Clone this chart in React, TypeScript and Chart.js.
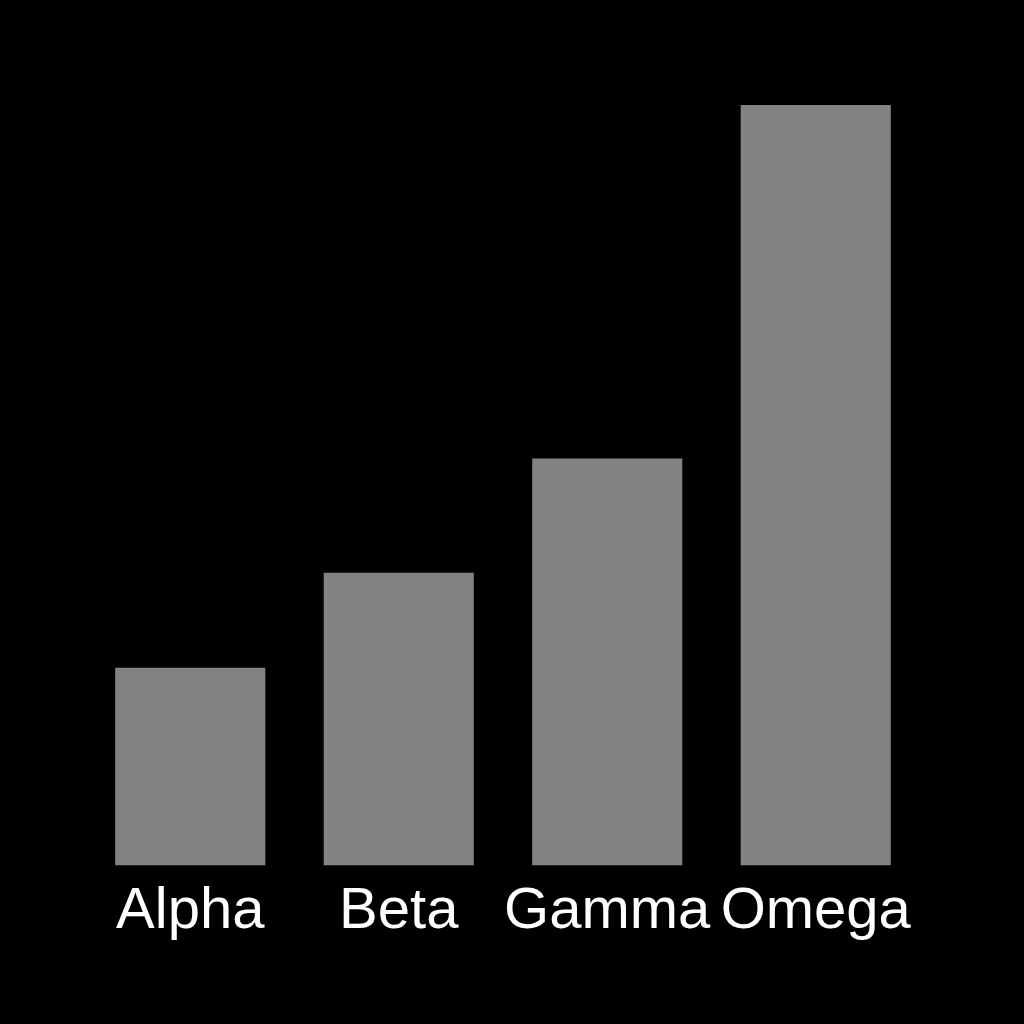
import React, { useEffect, useRef } from "react";
import { Chart, registerables } from "chart.js";

Chart.register(...registerables);

const categories = ["Alpha", "Beta", "Gamma", "Omega"];
const values = [26, 38.5, 53.5, 100];
const barColor = "#838383";

export default function App() {
  const ref = useRef<HTMLCanvasElement | null>(null);
  useEffect(() => {
    document.body.style.margin = "0";
    document.body.style.background = "#000";
    const canvas = ref.current;
    if (!canvas) return;
    const chart = new Chart(canvas, {
      type: "bar",
      data: {
        labels: categories,
        datasets: [
          {
            data: values,
            backgroundColor: barColor,
            borderWidth: 0,
            barPercentage: 0.72,
            categoryPercentage: 1,
          },
        ],
      },
      options: {
        animation: false,
        responsive: false,
        maintainAspectRatio: false,
        layout: { padding: { left: 86, right: 104, top: 105, bottom: 65 } },
        plugins: { legend: { display: false }, tooltip: { enabled: false } },
        scales: {
          x: {
            grid: { display: false, drawTicks: false },
            border: { display: false },
            ticks: {
              color: "#ffffff",
              padding: 12,
              maxRotation: 0,
              autoSkip: false,
              font: { family: "'Liberation Sans', 'DejaVu Sans', sans-serif", size: 58 },
            },
          },
          y: {
            display: false,
            min: 0,
            max: 100,
          },
        },
      },
    });
    return () => chart.destroy();
  }, []);
  return (
    <div style={{ width: 1024, height: 1024, background: "#000" }}>
      <canvas ref={ref} width={1024} height={1024} style={{ display: "block" }} />
    </div>
  );
}
